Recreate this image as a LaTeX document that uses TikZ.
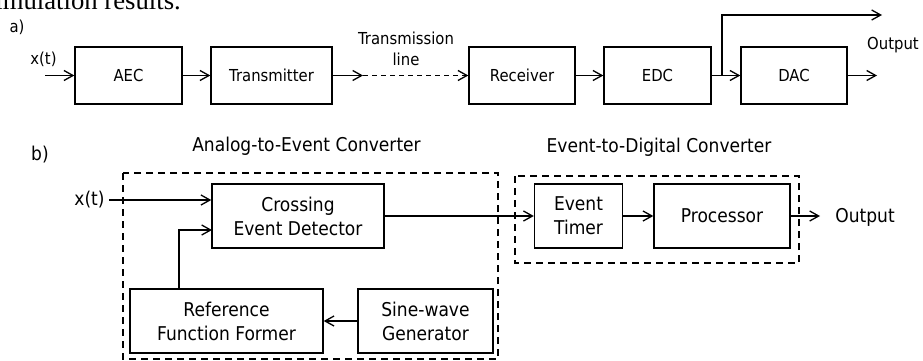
\documentclass[tikz,border=0pt]{standalone}
\usepackage{fontspec}
\usetikzlibrary{arrows.meta}
\newfontfamily\blkfont{DejaVu Sans}[FakeStretch=0.9]
\newfontfamily\txtfont{Liberation Serif}
\tikzstyle{blk}=[draw,line width=1.4pt,inner sep=0pt,align=center]
\tikzstyle{sa}=[font=\blkfont\fontsize{16.5}{21.5}\selectfont]
\tikzstyle{sb}=[font=\blkfont\fontsize{19}{24}\selectfont]
\tikzstyle{arr}=[line width=1.3pt,-{Straight Barb[length=9pt,width=10pt]}]
\tikzstyle{grp}=[line width=1.3pt,dash pattern=on 7pt off 5pt]
\def\px{1pt}

\begin{document}
\begin{tikzpicture}[x=\px,y=-\px]
	\useasboundingbox (0,0) rectangle (923,361);
	\node[anchor=base east,inner sep=0pt,font=\txtfont\fontsize{26.7}{30}\selectfont] (cap) at (181,10) {simulation results.};
	% a) transmission chain
	\node[sa,anchor=base] (la) at (17,33) {a)};
	\node[blk,sa,minimum width=107,minimum height=57] (aec) at (128.5,75.5) {AEC};
	\node[blk,sa,minimum width=121,minimum height=57] (tx) at (271.5,75.5) {Transmitter};
	\node[blk,sa,minimum width=106,minimum height=57] (rx) at (522,75.5) {Receiver};
	\node[blk,sa,minimum width=107,minimum height=57] (edc) at (657.5,75.5) {EDC};
	\node[blk,sa,minimum width=106,minimum height=57] (dac) at (794,75.5) {DAC};
	\node[sa,anchor=base] (xa) at (43.5,65) {x(t)};
	\node[sa,align=center] (tl) at (406,49) {Transmission\\line};
	\node[sa,anchor=base] (oa) at (893,50) {Output};
	\coordinate (ia) at (45,75.5);
	\coordinate (ta) at (363,75.5);
	\coordinate (br) at (722,75.5);
	\coordinate (bt) at (882,15);
	\coordinate (da) at (877,75.5);
	\draw[arr] (ia) -- (aec);
	\foreach \a/\b in {aec/tx,tx/ta,rx/edc,edc/dac,dac/da}
		\draw[arr] (\a) -- (\b);
	\draw[arr,dash pattern=on 5pt off 4pt] (ta) -- (rx);
	\draw[arr] (br) |- (bt);
	% b) converter structure
	\node[sb,anchor=base] (lb) at (40,160) {b)};
	\node[sb,anchor=base] (aname) at (306.5,151) {Analog-to-Event Converter};
	\node[sb,anchor=base] (ename) at (659,152) {Event-to-Digital Converter};
	\draw[grp] (123,173) rectangle (498,359);
	\draw[grp] (515,176) rectangle (799,263);
	\node[blk,sb,minimum width=172,minimum height=64] (ced) at (298,216) {Crossing\\Event Detector};
	\node[blk,sb,minimum width=193,minimum height=64] (rff) at (226.5,321) {Reference\\Function Former};
	\node[blk,sb,minimum width=135,minimum height=64] (swg) at (425.5,321) {Sine-wave\\Generator};
	\node[blk,sb,minimum width=88,minimum height=64] (et) at (578.5,216) {Event\\Timer};
	\node[blk,sb,minimum width=136,minimum height=64] (proc) at (722,216) {Processor};
	\node[sb,anchor=base] (xb) at (89.5,205) {x(t)};
	\node[sb,anchor=base] (ob) at (865,222) {Output};
	\coordinate (ib) at (109,200);
	\coordinate (fb) at (179,0);
	\coordinate (fi) at (212,230);
	\coordinate (po) at (820,216);
	\draw[arr] (ib) -- (ib -| ced.west);
	\draw[arr] (rff.north -| fb) |- (fi);
	\foreach \a/\b in {swg/rff,ced/et,et/proc,proc/po}
		\draw[arr] (\a) -- (\b);
\end{tikzpicture}
\end{document}
